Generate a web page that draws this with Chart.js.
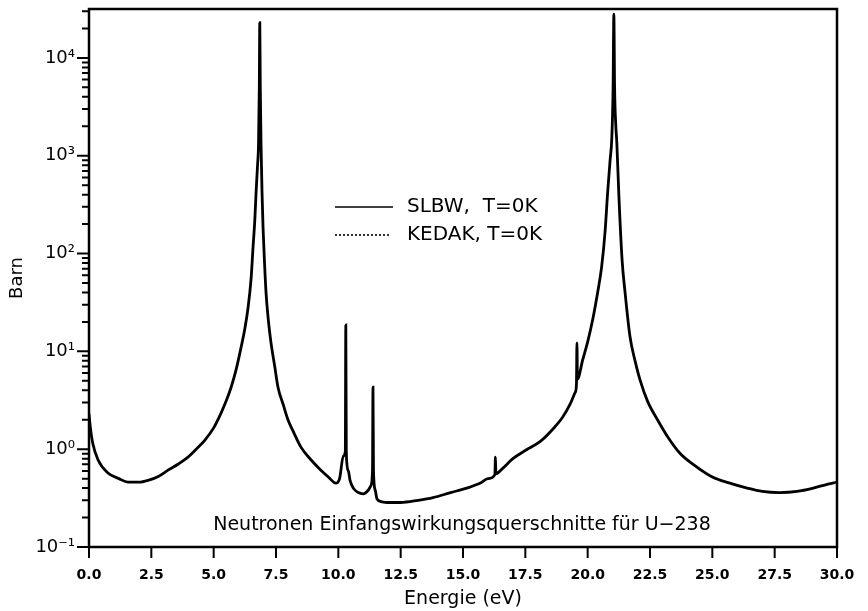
<!DOCTYPE html>
<html>
<head>
<meta charset="utf-8">
<script src="https://cdn.jsdelivr.net/npm/chart.js@4"></script>
<style>
html, body { margin: 0; padding: 0; background: #fff; }
</style>
</head>
<body>
<canvas id="chart" width="868" height="611"></canvas>
<script>
// energy grid (eV)
var energy = [0.0, 0.05, 0.15, 0.36, 0.76, 1.2, 1.56, 2.0, 2.37, 2.8, 3.17, 3.6, 3.97, 4.3, 4.65, 5.0, 5.3, 5.5, 5.7, 5.9,
	6.1, 6.25, 6.38, 6.5, 6.58, 6.65, 6.7, 6.76, 6.8, 6.83, 6.85, 6.87, 6.9, 6.94, 6.98, 7.04, 7.1, 7.2, 7.3, 7.45,
	7.58, 7.8, 7.98, 8.2, 8.5, 8.9, 9.3, 9.6, 9.9, 10.05, 10.2, 10.28, 10.3, 10.32, 10.4, 10.47, 10.6, 10.8, 11.0, 11.2,
	11.3, 11.37, 11.39, 11.41, 11.48, 11.55, 11.75, 11.95, 12.5, 13.2, 13.8, 14.5, 15.15, 15.7, 16.0, 16.28, 16.3, 16.32, 16.6, 17.0,
	17.5, 18.1, 18.6, 19.0, 19.3, 19.5, 19.55, 19.57, 19.59, 19.8, 20.0, 20.2, 20.4, 20.56, 20.7, 20.8, 20.9, 20.97, 21.02, 21.05,
	21.08, 21.13, 21.17, 21.25, 21.38, 21.5, 21.7, 21.9, 22.1, 22.4, 22.8, 23.2, 23.7, 24.3, 25.0, 25.7, 26.4, 27.0, 27.7, 28.4,
	29.05, 29.5, 30.0]

// capture cross section (barn), SLBW at T=0K
var slbw = [2.3, 1.7, 1.15, 0.78, 0.57, 0.5, 0.46, 0.46, 0.48, 0.53, 0.61, 0.71, 0.83, 1.0, 1.24, 1.65, 2.35, 3.1, 4.3, 6.5,
	11, 17, 28, 55, 117, 220, 417, 800, 1350, 5000, 23000, 5000, 1300, 420, 186, 80, 40, 20, 12.2, 7,
	4.3, 2.8, 2.0, 1.5, 1.05, 0.78, 0.61, 0.52, 0.45, 0.5, 0.85, 0.95, 18.6, 0.9, 0.6, 0.48, 0.4, 0.36, 0.35, 0.38,
	0.42, 0.6, 4.3, 0.6, 0.38, 0.31, 0.29, 0.285, 0.285, 0.3, 0.32, 0.36, 0.4, 0.45, 0.5, 0.55, 0.83, 0.56, 0.64, 0.8,
	0.97, 1.2, 1.6, 2.13, 2.9, 3.8, 4.6, 12.2, 5.2, 8.2, 12.5, 21, 40, 73, 170, 417, 900, 1550, 5000, 28000,
	5000, 2000, 1350, 400, 86, 40, 14, 8, 5.1, 3.1, 2.0, 1.35, 0.91, 0.68, 0.52, 0.45, 0.4, 0.37, 0.36, 0.37,
	0.4, 0.43, 0.46]

// KEDAK at T=0K lies on top of the SLBW curve at this scale
var kedak = [2.3, 1.7, 1.15, 0.78, 0.57, 0.5, 0.46, 0.46, 0.48, 0.53, 0.61, 0.71, 0.83, 1.0, 1.24, 1.65, 2.35, 3.1, 4.3, 6.5,
	11, 17, 28, 55, 117, 220, 417, 800, 1350, 5000, 23000, 5000, 1300, 420, 186, 80, 40, 20, 12.2, 7,
	4.3, 2.8, 2.0, 1.5, 1.05, 0.78, 0.61, 0.52, 0.45, 0.5, 0.85, 0.95, 18.6, 0.9, 0.6, 0.48, 0.4, 0.36, 0.35, 0.38,
	0.42, 0.6, 4.3, 0.6, 0.38, 0.31, 0.29, 0.285, 0.285, 0.3, 0.32, 0.36, 0.4, 0.45, 0.5, 0.55, 0.83, 0.56, 0.64, 0.8,
	0.97, 1.2, 1.6, 2.13, 2.9, 3.8, 4.6, 12.2, 5.2, 8.2, 12.5, 21, 40, 73, 170, 417, 900, 1550, 5000, 28000,
	5000, 2000, 1350, 400, 86, 40, 14, 8, 5.1, 3.1, 2.0, 1.35, 0.91, 0.68, 0.52, 0.45, 0.4, 0.37, 0.36, 0.37,
	0.4, 0.43, 0.46]

var xTicks = [0, 2.5, 5, 7.5, 10, 12.5, 15, 17.5, 20, 22.5, 25, 27.5, 30]
var yTicks = [0.1, 1, 10, 100, 1000, 10000]
var yTickLabels = ['10\u207B\u00B9', '10\u2070', '10\u00B9', '10\u00B2', '10\u00B3', '10\u2074']
var seriesNames = ['SLBW,  T=0K', 'KEDAK, T=0K']
var yMax = 31623

function toPoints(xs, ys) {
	var p = []
	for (var i = 0; i < xs.length; i++) {
		p.push({x: xs[i], y: ys[i]})
	}
	return p
}

var decorations = {
	id: 'decorations',
	afterDatasetsDraw: function(chart) {
		var ctx = chart.ctx
		var a = chart.chartArea
		var xs = chart.scales.x
		var ys = chart.scales.y
		ctx.save()
		ctx.strokeStyle = '#000'
		ctx.fillStyle = '#000'

		// frame
		ctx.lineWidth = 2.5
		ctx.strokeRect(a.left, a.top, a.right - a.left, a.bottom - a.top)

		// x ticks, pointing down
		ctx.lineWidth = 2
		ctx.beginPath()
		xTicks.forEach(function(v) {
			var px = xs.getPixelForValue(v)
			ctx.moveTo(px, a.bottom)
			ctx.lineTo(px, a.bottom + 11)
		})
		// y ticks, pointing left, major + minor
		for (var e = -1; e <= 4; e++) {
			for (var m = 1; m < 10; m++) {
				var v = m * Math.pow(10, e)
				if (v > yMax) break
				var py = ys.getPixelForValue(v)
				ctx.moveTo(a.left, py)
				ctx.lineTo(a.left - (m === 1 ? 12 : 7), py)
			}
		}
		ctx.stroke()

		// legend in the middle of the plot
		ctx.lineWidth = 1.6
		ctx.beginPath()
		ctx.moveTo(335, 207)
		ctx.lineTo(393, 207)
		ctx.stroke()
		ctx.setLineDash([2, 2])
		ctx.beginPath()
		ctx.moveTo(335, 235)
		ctx.lineTo(390, 235)
		ctx.stroke()
		ctx.setLineDash([])
		ctx.font = '20px "DejaVu Sans"'
		ctx.textBaseline = 'middle'
		ctx.textAlign = 'left'
		ctx.fillText(seriesNames[0], 407, 207)
		ctx.fillText(seriesNames[1], 407, 235)

		// caption inside the plot
		ctx.font = '19px "DejaVu Sans"'
		ctx.textAlign = 'center'
		ctx.fillText('Neutronen Einfangswirkungsquerschnitte f\u00FCr U\u2212238', 462, 525)
		ctx.restore()
	}
}

var ctx = document.getElementById('chart').getContext('2d')
var chart = new Chart(ctx, {
	type: 'line',
	data: {
		datasets: [{
			label: seriesNames[0],
			data: toPoints(energy, slbw),
			borderColor: '#000',
			borderWidth: 2.8,
			pointRadius: 0,
			cubicInterpolationMode: 'monotone'
		}, {
			label: seriesNames[1],
			data: toPoints(energy, kedak),
			borderColor: '#000',
			borderWidth: 1.2,
			borderDash: [2, 2],
			pointRadius: 0,
			cubicInterpolationMode: 'monotone'
		}]
	},
	options: {
		responsive: false,
		animation: false,
		layout: {
			padding: {left: 0, right: 31, top: 9, bottom: 0}
		},
		plugins: {
			legend: {display: false},
			tooltip: {enabled: false}
		},
		scales: {
			x: {
				type: 'linear',
				min: 0,
				max: 30,
				afterFit: function(s) {
					s.height = 64
					s.paddingLeft = 0
					s.paddingRight = 0
				},
				afterBuildTicks: function(s) {
					s.ticks = xTicks.map(function(v) { return {value: v} })
				},
				grid: {display: false, drawTicks: false},
				border: {display: false},
				ticks: {
					autoSkip: false,
					maxRotation: 0,
					padding: 20,
					color: '#000',
					font: {family: 'DejaVu Sans', size: 14, weight: 'bold'},
					callback: function(v) { return v.toFixed(1) }
				},
				title: {
					display: true,
					text: 'Energie (eV)',
					color: '#000',
					font: {family: 'DejaVu Sans', size: 19},
					padding: {top: 0, bottom: 1}
				}
			},
			y: {
				type: 'logarithmic',
				min: 0.1,
				max: yMax,
				afterFit: function(s) {
					s.width = 89
					s.paddingTop = 0
					s.paddingBottom = 0
				},
				afterBuildTicks: function(s) {
					s.ticks = yTicks.map(function(v) { return {value: v} })
				},
				grid: {display: false, drawTicks: false},
				border: {display: false},
				ticks: {
					padding: 14,
					color: '#000',
					font: {family: 'DejaVu Sans', size: 18},
					callback: function(v) {
						var i = yTicks.indexOf(v)
						return i >= 0 ? yTickLabels[i] : ''
					}
				},
				title: {
					display: true,
					text: 'Barn',
					color: '#000',
					font: {family: 'DejaVu Sans', size: 18},
					padding: {top: 7, bottom: 0}
				}
			}
		}
	},
	plugins: [decorations]
})
</script>
</body>
</html>
